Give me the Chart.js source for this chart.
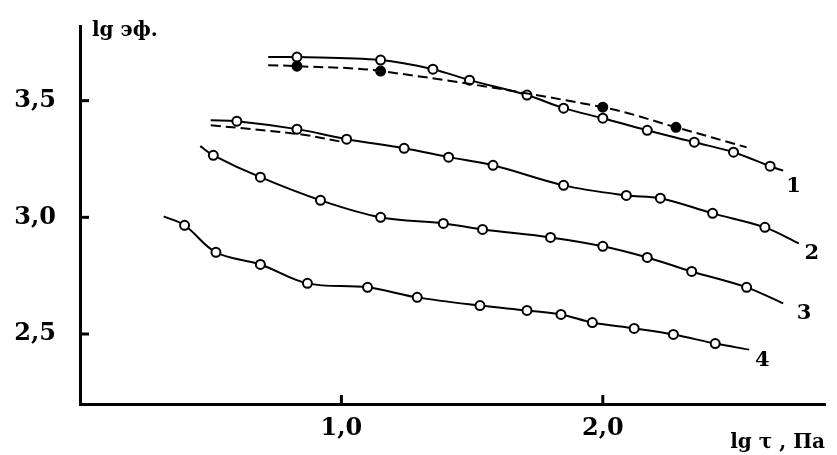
<!DOCTYPE html>
<html>
<head>
<meta charset="utf-8">
<script src="https://cdn.jsdelivr.net/npm/chart.js@4.4.1/dist/chart.umd.min.js"></script>
<style>
  html, body { margin: 0; padding: 0; background: #fff; }
  #wrap { width: 837px; height: 455px; }
</style>
</head>
<body>
<div id="wrap"><canvas id="chart"></canvas></div>
<script>
// tick labels
const xTicks = [1.0, 2.0];
const yTicks = [2.5, 3.0, 3.5];

// curve 1 (open circles) and its dashed twin (filled circles)
const c1X = [0.83, 1.15, 1.35, 1.49, 1.71, 1.85, 2.00, 2.17, 2.35, 2.50, 2.64];
const c1Y = [3.687, 3.674, 3.635, 3.588, 3.524, 3.468, 3.425, 3.373, 3.322, 3.279, 3.219];
const c1Ends = [[0.72, 3.687], [2.69, 3.20]];
const c1dX = [0.83, 1.15, 2.00, 2.28];
const c1dY = [3.648, 3.627, 3.472, 3.386];
const c1dEnds = [[0.72, 3.652], [2.55, 3.300]];

// curve 2 and the short dashed stroke at its start (no markers)
const c2X = [0.60, 0.83, 1.02, 1.24, 1.41, 1.58, 1.85, 2.09, 2.22, 2.42, 2.62];
const c2Y = [3.412, 3.378, 3.335, 3.296, 3.258, 3.223, 3.137, 3.094, 3.082, 3.017, 2.957];
const c2Ends = [[0.50, 3.416], [2.75, 2.888]];
const c2dX = [0.84];
const c2dY = [3.356];
const c2dEnds = [[0.50, 3.395], [1.01, 3.322]];

// curve 3
const c3X = [0.51, 0.69, 0.92, 1.15, 1.39, 1.54, 1.80, 2.00, 2.17, 2.34, 2.55];
const c3Y = [3.266, 3.172, 3.073, 3.000, 2.974, 2.948, 2.914, 2.876, 2.828, 2.768, 2.700];
const c3Ends = [[0.46, 3.305], [2.69, 2.631]];

// curve 4
const c4X = [0.40, 0.52, 0.69, 0.87, 1.10, 1.29, 1.53, 1.71, 1.84, 1.96, 2.12, 2.27, 2.43];
const c4Y = [2.966, 2.850, 2.798, 2.717, 2.700, 2.657, 2.622, 2.601, 2.584, 2.549, 2.524, 2.498, 2.459];
const c4Ends = [[0.32, 3.004], [2.56, 2.433]];

// curve numbers
const curveLabels = ['1', '2', '3', '4'];
const labelX = [2.73, 2.80, 2.77, 2.61];
const labelY = [3.13, 2.845, 2.588, 2.386];

const serif = '"DejaVu Serif", "Liberation Serif", serif';

function pts(xs, ys, ends) {
  const d = xs.map((x, i) => ({ x: x, y: ys[i] }));
  d.unshift({ x: ends[0][0], y: ends[0][1] });
  d.push({ x: ends[1][0], y: ends[1][1] });
  return d;
}

// marker: 'open', 'filled' or 'none'
function curve(xs, ys, ends, dashed, marker) {
  return {
    data: pts(xs, ys, ends),
    showLine: true,
    borderColor: '#000',
    borderWidth: 2,
    borderDash: dashed ? [10, 5] : [],
    tension: 0.35,
    pointRadius: ctx => (marker === 'none' || ctx.dataIndex === 0 || ctx.dataIndex === ctx.dataset.data.length - 1) ? 0 : 4.5,
    pointBorderWidth: 2,
    pointBorderColor: '#000',
    pointBackgroundColor: marker === 'filled' ? '#000' : '#fff'
  };
}

const decor = {
  id: 'decor',
  afterDraw(chart) {
    const ctx = chart.ctx;
    const xs = chart.scales.x, ys = chart.scales.y;
    const a = chart.chartArea;
    ctx.save();
    ctx.strokeStyle = '#000';
    ctx.lineWidth = 3;
    // inward ticks
    yTicks.forEach(v => {
      const p = ys.getPixelForValue(v);
      ctx.beginPath(); ctx.moveTo(a.left, p); ctx.lineTo(a.left + 9, p); ctx.stroke();
    });
    xTicks.forEach(v => {
      const p = xs.getPixelForValue(v);
      ctx.beginPath(); ctx.moveTo(p, a.bottom); ctx.lineTo(p, a.bottom - 9); ctx.stroke();
    });
    ctx.fillStyle = '#000';
    // axis titles
    ctx.font = 'bold 20px ' + serif;
    ctx.textBaseline = 'alphabetic';
    ctx.textAlign = 'left';
    ctx.fillText('lg эф.', a.left + 12, 36);
    ctx.textAlign = 'right';
    ctx.fillText('lg τ , Па', a.right, 448);
    // curve numbers
    ctx.font = 'bold 21px ' + serif;
    ctx.textAlign = 'center';
    ctx.textBaseline = 'middle';
    curveLabels.forEach((t, i) => {
      ctx.fillText(t, xs.getPixelForValue(labelX[i]), ys.getPixelForValue(labelY[i]));
    });
    ctx.restore();
  }
};

new Chart(document.getElementById('chart'), {
  type: 'scatter',
  data: {
    datasets: [
      curve(c1dX, c1dY, c1dEnds, true, 'filled'),
      curve(c2dX, c2dY, c2dEnds, true, 'none'),
      curve(c1X, c1Y, c1Ends, false, 'open'),
      curve(c2X, c2Y, c2Ends, false, 'open'),
      curve(c3X, c3Y, c3Ends, false, 'open'),
      curve(c4X, c4Y, c4Ends, false, 'open')
    ]
  },
  options: {
    responsive: true,
    maintainAspectRatio: false,
    animation: false,
    layout: { padding: { top: 26, right: 12, left: 0, bottom: 0 } },
    plugins: { legend: { display: false }, tooltip: { enabled: false } },
    elements: { line: { fill: false } },
    scales: {
      x: {
        type: 'linear',
        min: 0,
        max: 2.85,
        afterBuildTicks: s => { s.ticks = xTicks.map(v => ({ value: v })); },
        afterFit: s => { s.height = 51; s.paddingLeft = 0; s.paddingRight = 0; },
        grid: { display: false, drawTicks: false },
        border: { display: true, color: '#000', width: 3 },
        ticks: {
          padding: 10,
          color: '#000',
          font: { family: serif, size: 24, weight: 'bold' },
          callback: v => v.toFixed(1).replace('.', ',')
        }
      },
      y: {
        type: 'linear',
        min: 2.2,
        max: 3.82,
        afterBuildTicks: s => { s.ticks = yTicks.map(v => ({ value: v })); },
        afterFit: s => { s.width = 80; s.paddingTop = 0; s.paddingBottom = 0; },
        grid: { display: false, drawTicks: false },
        border: { display: true, color: '#000', width: 3 },
        ticks: {
          padding: 24,
          color: '#000',
          font: { family: serif, size: 24, weight: 'bold' },
          callback: v => v.toFixed(1).replace('.', ',')
        }
      }
    }
  },
  plugins: [decor]
});
</script>
</body>
</html>
